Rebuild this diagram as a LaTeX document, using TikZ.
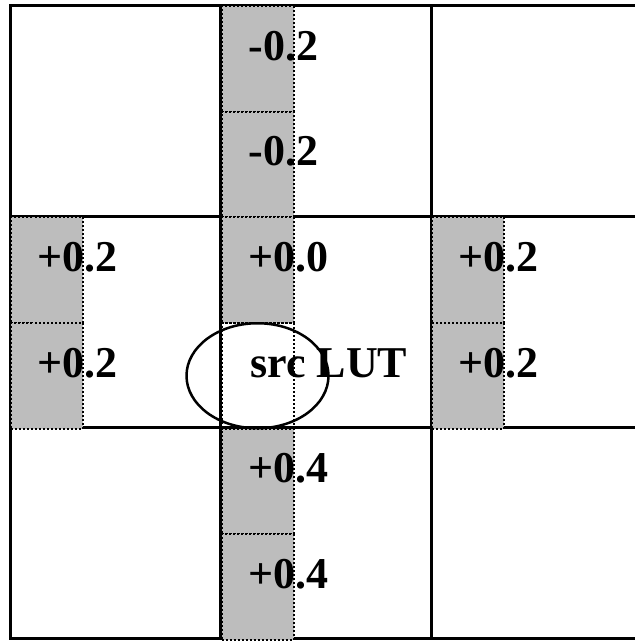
\documentclass[tikz,border=0pt]{standalone}
\usepackage{fontspec}
\setmainfont{Liberation Serif}
\usetikzlibrary{positioning}
\definecolor{lutGray}{HTML}{BDBDBD}

\begin{document}
\begin{tikzpicture}[x=0.5pt,y=-0.5pt,
  half/.style={draw=black,line width=1pt,dash pattern=on 1pt off 1pt,
               anchor=north west,inner sep=0pt,minimum width=36pt,minimum height=52.75pt},
  strip/.style={half,fill=lutGray},
  val/.style={anchor=base west,inner sep=0pt,font=\fontsize{22}{26}\selectfont\bfseries}]
  \useasboundingbox (0,0) rectangle (634,641);
  % table lines
  \draw[line width=1.5pt] (10,5.5) rectangle (641.5,638.5);
  \draw[line width=1.5pt] (220.5,5.5) -- (220.5,638.5) (431,5.5) -- (431,638.5)
                          (10,216.5) -- (641.5,216.5) (10,427.5) -- (641.5,427.5);
  % shaded halves
  \node[strip] (tm1) at (220.5,5.5) {};
  \node[strip] (tm2) at (220.5,111) {};
  \node[strip] (ml1) at (10,216.5) {};
  \node[strip] (ml2) at (10,322) {};
  \node[strip] (mm1) at (220.5,216.5) {};
  \node[half]  (mm2) at (220.5,322) {};
  \node[strip] (mr1) at (431,216.5) {};
  \node[strip] (mr2) at (431,322) {};
  \node[strip] (bm1) at (220.5,427.5) {};
  \node[strip] (bm2) at (220.5,533) {};
  % values
  \node[val] (vtm1) at (248,60.5) {-0.2};
  \node[val] (vtm2) at (248,166) {-0.2};
  \node[val] (vml1) at (37.5,271.5) {+0.2};
  \node[val] (vml2) at (37.5,377) {+0.2};
  \node[val] (vmm1) at (248,271.5) {+0.0};
  \node[val] (src)  at (250,377) {src LUT};
  \node[val] (vmr1) at (458.5,271.5) {+0.2};
  \node[val] (vmr2) at (458.5,377) {+0.2};
  \node[val] (vbm1) at (248,482.5) {+0.4};
  \node[val] (vbm2) at (248,588) {+0.4};
  \draw[line width=1.25pt] (mm2.center) ellipse [x radius=35.5pt,y radius=26.25pt];
\end{tikzpicture}
\end{document}
